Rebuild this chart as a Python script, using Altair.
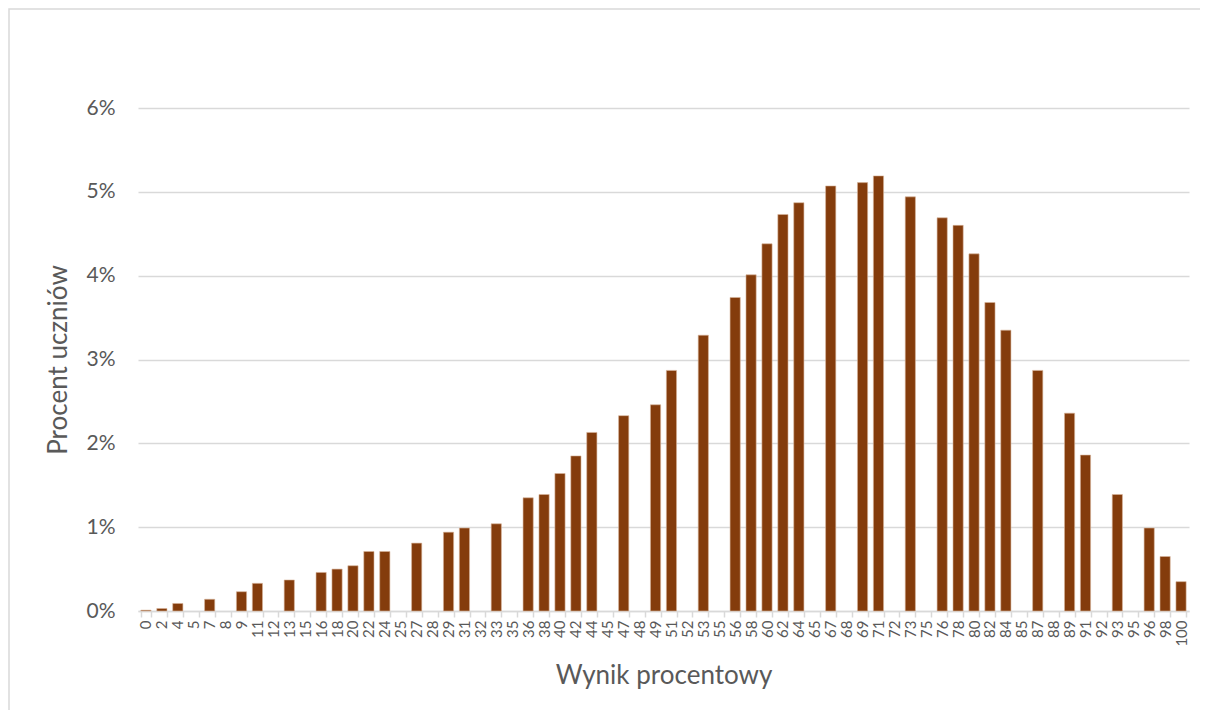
import altair as alt
import pandas as pd

categories = ["0", "2", "4", "5", "7", "8", "9", "11", "12", "13", "15", "16", "18", "20", "22", "24",
              "25", "27", "28", "29", "31", "32", "33", "35", "36", "38", "40", "42", "44", "45", "47",
              "48", "49", "51", "52", "53", "55", "56", "58", "60", "62", "64", "65", "67", "68", "69",
              "71", "72", "73", "75", "76", "78", "80", "82", "84", "85", "87", "88", "89", "91", "92",
              "93", "95", "96", "98", "100"]
percent = [0.01, 0.03, 0.09, 0, 0.14, 0, 0.23, 0.33, 0, 0.37, 0, 0.46, 0.50, 0.54, 0.71, 0.71,
           0, 0.81, 0, 0.94, 0.99, 0, 1.04, 0, 1.35, 1.39, 1.64, 1.85, 2.13, 0, 2.33,
           0, 2.46, 2.87, 0, 3.29, 0, 3.74, 4.01, 4.38, 4.73, 4.87, 0, 5.07, 0, 5.11,
           5.19, 0, 4.94, 0, 4.69, 4.60, 4.26, 3.68, 3.35, 0, 2.87, 0, 2.36, 1.86, 0,
           1.39, 0, 0.99, 0.65, 0.35]
y_ticks = [0, 0.01, 0.02, 0.03, 0.04, 0.05, 0.06]

df = pd.DataFrame({"wynik": categories, "procent": [p / 100 for p in percent]})

FONT = "Lato"
GRAY = "#595959"

bars = alt.Chart(df).transform_filter("datum.procent > 0").mark_bar(
    color="#843C0C", stroke="#d8b59c", strokeWidth=0.6
).encode(
    x=alt.X("wynik:N", sort=categories,
            scale=alt.Scale(domain=categories, paddingInner=0.36, paddingOuter=0.18),
            axis=alt.Axis(title="Wynik procentowy", labelAngle=270, labelFontSize=15,
                          labelColor=GRAY, labelFont=FONT, labelPadding=3, grid=False,
                          tickBand="extent", tickColor="#d9d9d9", tickSize=6, tickWidth=1.5,
                          domainColor="#d9d9d9", domainWidth=1.5,
                          titleFontSize=26, titleFont=FONT, titleColor=GRAY,
                          titleFontWeight="normal", titlePadding=16)),
    y=alt.Y("procent:Q", scale=alt.Scale(domain=[0, 0.06], nice=False),
            axis=alt.Axis(title="Procent uczniów", format=".0%", values=y_ticks,
                          labelFontSize=21, labelColor=GRAY, labelFont=FONT, labelPadding=23,
                          labelOverlap=False,
                          domain=False, ticks=False, gridColor="#d9d9d9", gridWidth=1.5,
                          titleFontSize=26, titleFont=FONT, titleColor=GRAY,
                          titleFontWeight="normal", titlePadding=14)),
)

frame = alt.Chart(pd.DataFrame({"a": [0]})).mark_rect(
    fill="transparent", stroke="#d9d9d9", strokeWidth=1.5, clip=False
).encode(
    x=alt.value(-129), x2=alt.value(1300), y=alt.value(-99), y2=alt.value(800)
)

chart = alt.layer(frame, bars).properties(
    width=1051, height=503,
    autosize=alt.AutoSizeParams(type="none"),
    padding={"left": 130, "top": 100, "right": 11, "bottom": 99},
    view=alt.ViewBackground(stroke="transparent", strokeWidth=0),
).configure_view(stroke="transparent", strokeWidth=0).configure(font=FONT)

chart.save("out.html", embed_options={"renderer": "svg", "actions": False})
